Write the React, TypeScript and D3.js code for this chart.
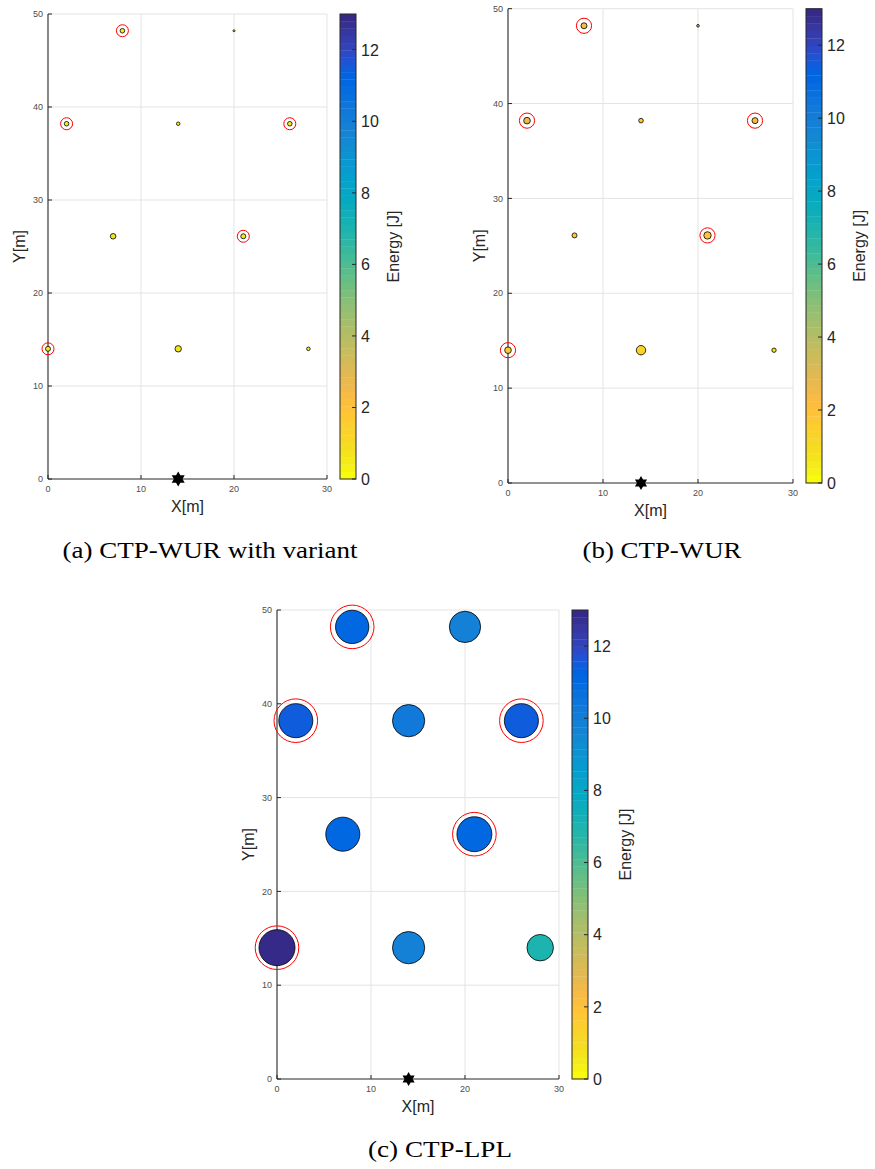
import React from 'react';
import * as d3 from 'd3';

// ---------- data ----------
const nodeX = [0, 14, 28, 7, 21, 2, 14, 26, 8, 20];
const nodeY = [14, 14, 14, 26.1, 26.1, 38.2, 38.2, 38.2, 48.2, 48.2];
const ringed = [true, false, false, false, true, true, false, true, true, false];
const sinkX = [14];
const sinkY = [0];

const energyA = [0.6, 0.8, 0.4, 0.7, 0.6, 0.6, 0.4, 0.6, 0.6, 0.3];
const sizeA = [0.25, 0.41, 0.13, 0.31, 0.25, 0.21, 0.12, 0.21, 0.21, 0.04];
const energyB = [1.7, 1.3, 0.8, 1.8, 2.0, 2.8, 1.8, 2.3, 2.3, 2.5];
const sizeB = [0.44, 0.88, 0.19, 0.25, 0.55, 0.44, 0.21, 0.36, 0.36, 0.07];
const energyC = [13, 9.9, 7.0, 11.1, 11.1, 11.4, 10.2, 11.4, 11.1, 9.8];
const sizeC = [13, 10.4, 7.0, 11.6, 12.2, 11.6, 10.4, 11.6, 11.1, 9.8];

const xTicks = [0, 10, 20, 30];
const yTicks = [0, 10, 20, 30, 40, 50];
const cbTicks = [0, 2, 4, 6, 8, 10, 12];
const xDomain = [0, 30];
const yDomain = [0, 50];
const cbDomain = [0, 13];
const captions = ['(a) CTP-WUR with variant', '(b) CTP-WUR', '(c) CTP-LPL'];

// ---------- colormap (MATLAB parula, 64 steps), used reversed ----------
const parula: number[][] = [
  [0.2081, 0.1663, 0.5292], [0.2116, 0.1898, 0.5777], [0.2123, 0.2138, 0.627], [0.2081, 0.2386, 0.6771],
  [0.1959, 0.2645, 0.7279], [0.1707, 0.2919, 0.7792], [0.1253, 0.3242, 0.8303], [0.0591, 0.3598, 0.8683],
  [0.0117, 0.3875, 0.882], [0.006, 0.4086, 0.8828], [0.0165, 0.4266, 0.8786], [0.0329, 0.443, 0.872],
  [0.0498, 0.4586, 0.8641], [0.0629, 0.4737, 0.8554], [0.0723, 0.4887, 0.8467], [0.0779, 0.504, 0.8384],
  [0.0793, 0.52, 0.8312], [0.0749, 0.5375, 0.8263], [0.0641, 0.557, 0.824], [0.0488, 0.5772, 0.8228],
  [0.0343, 0.5966, 0.8199], [0.0265, 0.6137, 0.8135], [0.0239, 0.6287, 0.8038], [0.0231, 0.6418, 0.7913],
  [0.0228, 0.6535, 0.7768], [0.0267, 0.6642, 0.7607], [0.0384, 0.6743, 0.7436], [0.059, 0.6838, 0.7254],
  [0.0843, 0.6928, 0.7062], [0.1133, 0.7015, 0.6859], [0.1453, 0.7098, 0.6646], [0.1801, 0.7177, 0.6424],
  [0.2178, 0.725, 0.6193], [0.2586, 0.7317, 0.5954], [0.3022, 0.7376, 0.5712], [0.3482, 0.7424, 0.5473],
  [0.3953, 0.7459, 0.5244], [0.442, 0.7481, 0.5033], [0.4871, 0.7491, 0.484], [0.53, 0.7491, 0.4661],
  [0.5709, 0.7485, 0.4494], [0.6099, 0.7473, 0.4337], [0.6473, 0.7456, 0.4188], [0.6834, 0.7435, 0.4044],
  [0.7184, 0.7411, 0.3905], [0.7525, 0.7384, 0.3768], [0.7858, 0.7356, 0.3633], [0.8185, 0.7327, 0.3498],
  [0.8507, 0.7299, 0.336], [0.8824, 0.7274, 0.3217], [0.9139, 0.7258, 0.3063], [0.945, 0.7261, 0.2886],
  [0.9739, 0.7314, 0.2666], [0.9938, 0.7455, 0.2403], [0.999, 0.7653, 0.2164], [0.9955, 0.7861, 0.1967],
  [0.988, 0.8066, 0.1794], [0.9789, 0.8271, 0.1633], [0.9697, 0.8481, 0.1475], [0.9626, 0.8705, 0.1309],
  [0.9589, 0.8949, 0.1132], [0.9598, 0.9218, 0.0948], [0.9661, 0.9514, 0.0755], [0.9763, 0.9831, 0.0538],
];
const N = parula.length;
const rgb = (c: number[]) => d3.rgb(c[0] * 255, c[1] * 255, c[2] * 255).formatHex();
const colorIndex = d3.scaleQuantize<number>().domain(cbDomain).range(d3.range(N));
const colorOf = (v: number) => rgb(parula[N - 1 - colorIndex(v)]);

// ---------- layout ----------
type Layout = {
  x0: number; x1: number; y0: number; y1: number; cbX: number; cbW: number;
  ringR: number; starR: number; capX: number; capY: number; capW: number;
};
const layouts: Layout[] = [
  { x0: 48, x1: 327, y0: 479, y1: 14, cbX: 340, cbW: 16, ringR: 6, starR: 7.5, capX: 210, capY: 558, capW: 295 },
  { x0: 508, x1: 793, y0: 483, y1: 8.7, cbX: 806, cbW: 16, ringR: 7.6, starR: 7, capX: 662, capY: 558, capW: 159 },
  { x0: 277, x1: 559, y0: 1079, y1: 610, cbX: 572, cbW: 16, ringR: 21.8, starR: 7, capX: 440, capY: 1157, capW: 144 },
];
const energies = [energyA, energyB, energyC];
const sizes = [sizeA, sizeB, sizeC];

const SANS = '"Liberation Sans", Arial, Helvetica, sans-serif';
const SERIF = '"Liberation Serif", "DejaVu Serif", serif';

function hexagram(R: number) {
  const pts: [number, number][] = d3.range(12).map((k) => {
    const a = -Math.PI / 2 + (k * Math.PI) / 6;
    const r = k % 2 === 0 ? R : R / Math.sqrt(3);
    return [r * Math.cos(a), r * Math.sin(a)];
  });
  return d3.line()(pts)! + 'Z';
}

function Panel({ L, energy, size, caption }: { L: Layout; energy: number[]; size: number[]; caption: string }) {
  const x = d3.scaleLinear().domain(xDomain).range([L.x0, L.x1]);
  const y = d3.scaleLinear().domain(yDomain).range([L.y0, L.y1]);
  const cb = d3.scaleLinear().domain(cbDomain).range([L.y0, L.y1]);
  const r = d3.scaleSqrt().domain([0, 1]).range([0, 5]);
  const axisColor = '#262626';
  const tickColor = '#4d4d4d';
  const gridColor = '#e3e3e3';
  const cbRight = L.cbX + L.cbW;
  const midY = (L.y0 + L.y1) / 2;
  const steps = d3.range(N);
  const stepH = (L.y0 - L.y1) / N;

  return (
    <g>
      {/* grid */}
      {xTicks.filter((t) => t > 0).map((t) => (
        <line key={'gx' + t} x1={x(t)} x2={x(t)} y1={L.y0} y2={L.y1} stroke={gridColor} strokeWidth={1} />
      ))}
      {yTicks.filter((t) => t > 0).map((t) => (
        <line key={'gy' + t} x1={L.x0} x2={L.x1} y1={y(t)} y2={y(t)} stroke={gridColor} strokeWidth={1} />
      ))}
      {/* axes */}
      <line x1={L.x0} x2={L.x0} y1={L.y0} y2={L.y1} stroke={axisColor} strokeWidth={1.1} />
      <line x1={L.x0} x2={L.x1} y1={L.y0} y2={L.y0} stroke={axisColor} strokeWidth={1.1} />
      {yTicks.map((t) => (
        <g key={'ty' + t}>
          <line x1={L.x0} x2={L.x0 + 4} y1={y(t)} y2={y(t)} stroke={axisColor} strokeWidth={1} />
          <text x={L.x0 - 5} y={y(t)} dy="0.35em" textAnchor="end" fontSize={9} fill={tickColor} fontFamily={SANS}>
            {t}
          </text>
        </g>
      ))}
      {xTicks.map((t) => (
        <g key={'tx' + t}>
          <line x1={x(t)} x2={x(t)} y1={L.y0} y2={L.y0 - 4} stroke={axisColor} strokeWidth={1} />
          <text x={x(t)} y={L.y0 + 13} textAnchor="middle" fontSize={9} fill={tickColor} fontFamily={SANS}>
            {t}
          </text>
        </g>
      ))}
      <text x={(L.x0 + L.x1) / 2} y={L.y0 + 32.5} textAnchor="middle" fontSize={16} fill={axisColor} fontFamily={SANS}>
        X[m]
      </text>
      <text transform={`translate(${L.x0 - 27},${midY}) rotate(-90)`} y={4} textAnchor="middle" fontSize={16} fill={axisColor} fontFamily={SANS}>
        Y[m]
      </text>

      {/* sink */}
      {sinkX.map((sx, i) => (
        <path key={'s' + i} d={hexagram(L.starR)} transform={`translate(${x(sx)},${y(sinkY[i])})`} fill="#000" />
      ))}

      {/* nodes */}
      {nodeX.map((nx, i) => (
        <circle key={'n' + i} cx={x(nx)} cy={y(nodeY[i])} r={r(size[i])} fill={colorOf(energy[i])} stroke="#000" strokeWidth={0.8} />
      ))}
      {nodeX.map((nx, i) =>
        ringed[i] ? (
          <circle key={'rg' + i} cx={x(nx)} cy={y(nodeY[i])} r={L.ringR} fill="none" stroke="#ff0000" strokeWidth={1} />
        ) : null
      )}

      {/* colorbar */}
      {steps.map((k) => (
        <rect key={'cb' + k} x={L.cbX} width={L.cbW} y={L.y0 - (k + 1) * stepH} height={stepH + 0.3}
          fill={rgb(parula[N - 1 - k])} />
      ))}
      <rect x={L.cbX} y={L.y1} width={L.cbW} height={L.y0 - L.y1} fill="none" stroke={axisColor} strokeWidth={1} />
      {cbTicks.map((t) => (
        <g key={'cbt' + t}>
          <line x1={cbRight} x2={cbRight - 4} y1={cb(t)} y2={cb(t)} stroke={axisColor} strokeWidth={1} />
          <text x={cbRight + 5} y={cb(t)} dy="0.36em" fontSize={16} fill={axisColor} fontFamily={SANS}>
            {t}
          </text>
        </g>
      ))}
      <text transform={`translate(${cbRight + 38},${midY}) rotate(-90)`} y={5} textAnchor="middle" fontSize={16} fill={axisColor} fontFamily={SANS}>
        Energy [J]
      </text>

      {/* caption */}
      <text x={L.capX} y={L.capY} textAnchor="middle" fontSize={24} fill="#000" fontFamily={SERIF}
        textLength={L.capW} lengthAdjust="spacingAndGlyphs">
        {caption}
      </text>
    </g>
  );
}

export default function App() {
  return (
    <svg width={875} height={1169} style={{ position: 'absolute', left: 0, top: 0, background: '#fff' }}>
      <rect width={875} height={1169} fill="#fff" />
      {layouts.map((L, i) => (
        <Panel key={i} L={L} energy={energies[i]} size={sizes[i]} caption={captions[i]} />
      ))}
    </svg>
  );
}
